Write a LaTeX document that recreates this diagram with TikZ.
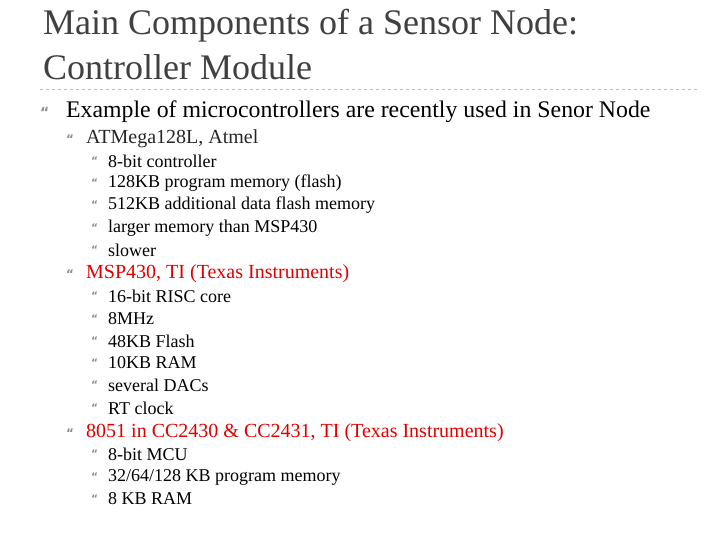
\documentclass[tikz,border=0pt]{standalone}
\usepackage{fontspec}
\setmainfont{Liberation Serif}
\newfontfamily\symfont{DejaVu Sans}
\definecolor{titlegray}{HTML}{404040}
\definecolor{subgray}{HTML}{262626}
\definecolor{bulgray}{HTML}{8C8C8C}
\definecolor{redtxt}{HTML}{E00000}
\begin{document}
\begin{tikzpicture}[x=1pt,y=-1pt,
  every node/.style={inner sep=0pt,anchor=west},
  ttl/.style={font=\fontsize{36}{36}\selectfont,text=titlegray},
  lone/.style={font=\fontsize{23.8}{23.8}\selectfont},
  ltwo/.style={font=\fontsize{20}{20}\selectfont,text=subgray},
  lthree/.style={font=\fontsize{18}{18}\selectfont},
  bul/.style={font=\symfont\bfseries\fontsize{14}{14}\selectfont,text=bulgray}]
\useasboundingbox (0,0) rectangle (720,540);
\node[ttl] (t1) at (43,26) {Main Components of a Sensor Node:};
\node[ttl] (t2) at (43,67) {Controller Module};
\draw[bulgray!60,dashed,line width=0.8pt] (40,89) coordinate (d1) -- (700,89) coordinate (d2);
\node[bul] (b0) at (40,112) {“};
\node[lone] (a0) at (66,112) {Example of microcontrollers are recently used in Senor Node};
\foreach \y/\t/\c [count=\i] in {139/{ATMega128L, Atmel}/subgray,274/{MSP430, TI (Texas Instruments)}/redtxt,433/{8051 in CC2430 \& CC2431, TI (Texas Instruments)}/redtxt}
  {\node[bul,font=\symfont\bfseries\fontsize{12}{12}\selectfont] (bb\i) at (66,\y) {“};
   \node[ltwo,text=\c] (l\i) at (86,\y) {\t};}
\foreach \y/\t [count=\i] in {161/8-bit controller,183/128KB program memory (flash),205/512KB additional data flash memory,228/larger memory than MSP430,250/slower,
  296/16-bit RISC core,319/8MHz,341/48KB Flash,363/10KB RAM,385/several DACs,408/RT clock,
  454/8-bit MCU,477/{32/64/128 KB program memory},499/8 KB RAM}
  {\node[bul,font=\symfont\bfseries\fontsize{10.5}{10.5}\selectfont] (cb\i) at (91,\y) {“};
   \node[lthree] (c\i) at (108,\y) {\t};}
\end{tikzpicture}
\end{document}
